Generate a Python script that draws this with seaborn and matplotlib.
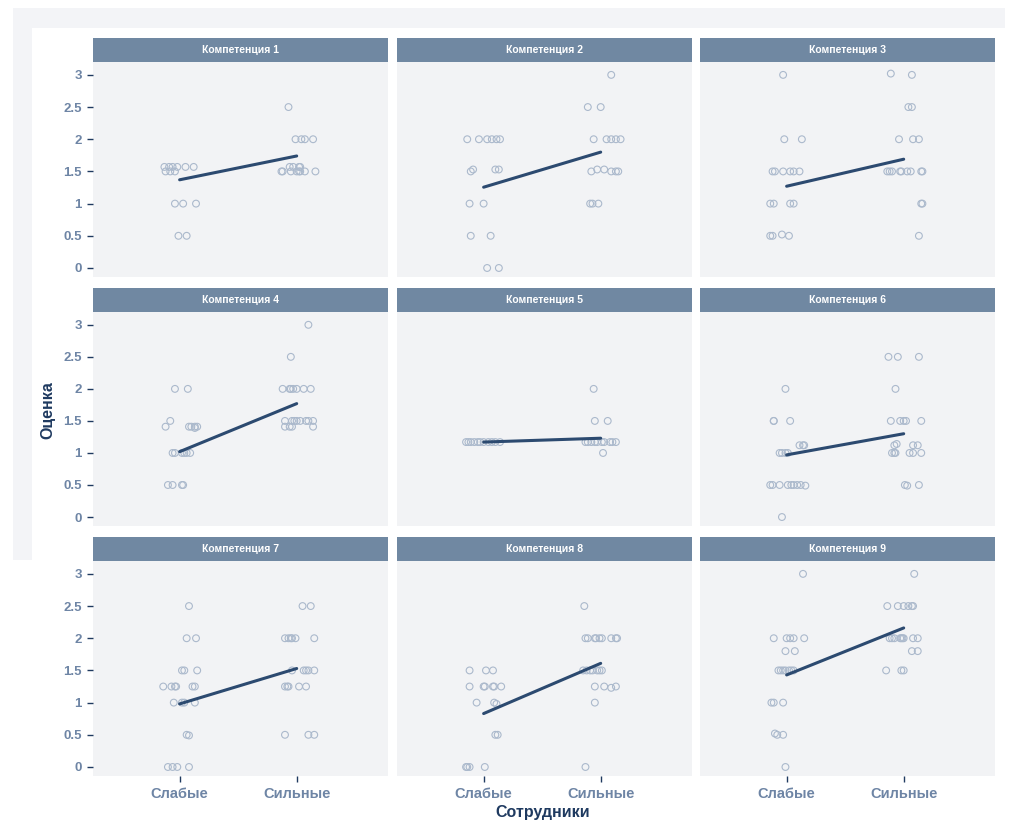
import matplotlib
matplotlib.use("Agg")
import matplotlib.pyplot as plt
import numpy as np
import pandas as pd
import seaborn as sns
from matplotlib.patches import Rectangle

# ---------------- data ----------------
categories = ["Слабые", "Сильные"]
titles = [f"Компетенция {i}" for i in range(1, 10)]
y_ticks = [0, 0.5, 1, 1.5, 2, 2.5, 3]
y_tick_labels = ["0", "0.5", "1", "1.5", "2", "2.5", "3"]

# jittered positions (1 = Слабые, 2 = Сильные) and scores
c1_x = [0.87, 0.91, 0.94, 0.98, 1.05, 1.12, 0.88, 0.92, 0.96, 0.96, 1.03, 1.14, 0.99, 1.06,
        1.93, 1.99, 2.04, 2.07, 2.14, 1.94, 1.97, 2.02, 2.03, 1.87, 1.88, 1.95, 2.00, 2.02, 2.03, 2.07, 2.16]
c1_y = [1.57, 1.57, 1.57, 1.57, 1.57, 1.57, 1.5, 1.5, 1.5, 1.0, 1.0, 1.0, 0.5, 0.5,
        2.5, 2.0, 2.0, 2.0, 2.0, 1.57, 1.57, 1.57, 1.57, 1.5, 1.5, 1.5, 1.5, 1.5, 1.5, 1.5, 1.5]

c2_x = [0.86, 0.96, 1.03, 1.07, 1.11, 1.14, 0.89, 0.91, 1.10, 1.13, 0.88, 1.00, 0.89, 1.06, 1.03, 1.13,
        2.09, 1.89, 2.00, 1.94, 2.05, 2.09, 2.13, 2.17, 1.92, 2.09, 2.13, 2.15, 1.97, 2.03, 1.91, 1.93, 1.98]
c2_y = [2.0, 2.0, 2.0, 2.0, 2.0, 2.0, 1.5, 1.53, 1.53, 1.53, 1.0, 1.0, 0.5, 0.5, 0.0, 0.0,
        3.0, 2.5, 2.5, 2.0, 2.0, 2.0, 2.0, 2.0, 1.5, 1.5, 1.5, 1.5, 1.53, 1.53, 1.0, 1.0, 1.0]

c3_x = [0.97, 0.98, 1.13, 0.88, 0.90, 0.97, 1.03, 1.06, 1.11, 0.86, 0.89, 1.03, 1.06, 0.86, 0.88, 1.02, 0.96,
        2.07, 1.89, 2.04, 2.07, 1.96, 2.08, 2.13, 1.86, 1.88, 1.90, 1.97, 1.98, 2.03, 2.06, 2.15, 2.16,
        2.15, 2.16, 2.13]
c3_y = [3.0, 2.0, 2.0, 1.5, 1.5, 1.5, 1.5, 1.5, 1.5, 1.0, 1.0, 1.0, 1.0, 0.5, 0.5, 0.5, 0.52,
        3.0, 3.02, 2.5, 2.5, 2.0, 2.0, 2.0, 1.5, 1.5, 1.5, 1.5, 1.5, 1.5, 1.5, 1.5, 1.5,
        1.0, 1.0, 0.5]

c4_x = [0.96, 1.07, 0.92, 0.88, 1.08, 1.10, 1.13, 1.15, 1.13, 0.94, 0.96, 1.02, 1.04, 1.06, 1.09,
        0.90, 0.94, 1.02, 1.03,
        2.10, 1.95, 1.88, 1.94, 1.95, 1.97, 2.00, 2.06, 2.12, 1.90, 1.96, 1.98, 2.00, 2.03, 2.08, 2.10, 2.14,
        1.90, 1.94, 1.96, 2.14]
c4_y = [2.0, 2.0, 1.5, 1.41, 1.41, 1.41, 1.41, 1.41, 1.39, 1.0, 1.0, 1.0, 1.0, 1.0, 1.0,
        0.5, 0.5, 0.5, 0.5,
        3.0, 2.5, 2.0, 2.0, 2.0, 2.0, 2.0, 2.0, 2.0, 1.5, 1.5, 1.5, 1.5, 1.5, 1.5, 1.5, 1.5,
        1.41, 1.41, 1.41, 1.41]

c5_x = [0.85, 0.87, 0.89, 0.92, 0.95, 0.97, 1.00, 1.04, 1.07, 1.10, 1.14,
        1.94, 1.95, 2.06, 1.87, 1.89, 1.92, 1.95, 1.97, 2.01, 2.03, 2.08, 2.10, 2.13, 2.02]
c5_y = [1.17, 1.17, 1.17, 1.17, 1.17, 1.17, 1.17, 1.17, 1.17, 1.17, 1.17,
        2.0, 1.5, 1.5, 1.17, 1.17, 1.17, 1.17, 1.17, 1.17, 1.17, 1.17, 1.17, 1.17, 1.0]

c6_x = [0.99, 0.89, 0.89, 1.03, 1.11, 1.14, 1.15, 0.94, 0.96, 0.99, 1.01,
        0.86, 0.88, 0.94, 1.01, 1.04, 1.06, 1.09, 1.12, 1.16, 0.96,
        1.87, 1.95, 2.13, 1.93, 1.89, 1.97, 2.00, 2.02, 2.15, 2.08, 2.12, 1.92, 1.94,
        1.90, 1.92, 1.93, 2.05, 2.08, 2.15, 2.01, 2.13, 2.03]
c6_y = [2.0, 1.5, 1.5, 1.5, 1.12, 1.12, 1.12, 1.0, 1.0, 1.0, 1.0,
        0.5, 0.5, 0.5, 0.5, 0.5, 0.5, 0.5, 0.5, 0.49, 0.0,
        2.5, 2.5, 2.5, 2.0, 1.5, 1.5, 1.5, 1.5, 1.5, 1.12, 1.12, 1.12, 1.14,
        1.0, 1.0, 1.0, 1.0, 1.0, 1.0, 0.5, 0.5, 0.49]

c7_x = [1.08, 1.06, 1.14, 1.02, 1.04, 1.15, 0.86, 0.93, 0.96, 0.97, 1.11, 1.13,
        0.95, 1.02, 1.04, 1.13, 1.06, 1.08, 0.90, 0.94, 0.98, 1.08,
        2.05, 2.12, 1.90, 1.93, 1.95, 1.96, 1.99, 2.15, 1.96, 2.06, 2.08, 2.10, 2.15,
        1.90, 1.92, 1.93, 2.02, 2.08, 1.90, 2.10, 2.15]
c7_y = [2.5, 2.0, 2.0, 1.5, 1.5, 1.5, 1.25, 1.25, 1.25, 1.25, 1.25, 1.25,
        1.0, 1.0, 1.0, 1.0, 0.5, 0.49, 0.0, 0.0, 0.0, 0.0,
        2.5, 2.5, 2.0, 2.0, 2.0, 2.0, 2.0, 2.0, 1.5, 1.5, 1.5, 1.5, 1.5,
        1.25, 1.25, 1.25, 1.25, 1.25, 0.5, 0.5, 0.5]

c8_x = [0.88, 1.02, 1.08, 0.88, 1.00, 1.01, 1.08, 1.09, 1.15, 0.94, 1.09, 1.11, 1.10, 1.12,
        0.85, 0.86, 0.88, 1.01,
        1.86, 1.87, 1.89, 1.95, 1.96, 1.99, 2.01, 2.09, 2.13, 2.14,
        1.85, 1.88, 1.91, 1.93, 1.97, 1.99, 2.01, 1.95, 2.03, 2.13, 2.09, 1.95, 1.87]
c8_y = [1.5, 1.5, 1.5, 1.25, 1.25, 1.25, 1.25, 1.25, 1.25, 1.0, 1.0, 0.98, 0.5, 0.5,
        0.0, 0.0, 0.0, 0.0,
        2.5, 2.0, 2.0, 2.0, 2.0, 2.0, 2.0, 2.0, 2.0, 2.0,
        1.5, 1.5, 1.5, 1.5, 1.5, 1.5, 1.5, 1.25, 1.25, 1.25, 1.23, 1.0, 0.0]

c9_x = [1.14, 0.89, 1.00, 1.03, 1.06, 1.15, 0.99, 1.07, 0.93, 0.95, 0.97, 0.99, 1.02, 1.04, 1.06,
        0.87, 0.89, 0.97, 0.97, 0.92, 0.90, 0.99,
        2.09, 1.86, 1.95, 2.00, 2.04, 2.07, 2.08, 1.88, 1.90, 1.92, 1.97, 1.98, 1.99, 2.00, 2.08, 2.12,
        2.07, 2.12, 1.85, 1.98, 2.00]
c9_y = [3.0, 2.0, 2.0, 2.0, 2.0, 2.0, 1.8, 1.8, 1.5, 1.5, 1.5, 1.5, 1.5, 1.5, 1.5,
        1.0, 1.0, 1.0, 0.5, 0.5, 0.52, 0.0,
        3.0, 2.5, 2.5, 2.5, 2.5, 2.5, 2.5, 2.0, 2.0, 2.0, 2.0, 2.0, 2.0, 2.0, 2.0, 2.0,
        1.8, 1.8, 1.5, 1.5, 1.5]

# fitted line ends (mean scores for Слабые / Сильные)
line_weak = [1.37, 1.255, 1.27, 1.02, 1.17, 0.97, 0.98, 0.83, 1.43]
line_strong = [1.74, 1.80, 1.69, 1.77, 1.23, 1.30, 1.53, 1.61, 2.16]

xs = [c1_x, c2_x, c3_x, c4_x, c5_x, c6_x, c7_x, c8_x, c9_x]
ys = [c1_y, c2_y, c3_y, c4_y, c5_y, c6_y, c7_y, c8_y, c9_y]

points = pd.concat(
    [pd.DataFrame({"comp": t, "x": x, "y": y}) for t, x, y in zip(titles, xs, ys)],
    ignore_index=True)
lines = pd.concat(
    [pd.DataFrame({"comp": t, "x": [1, 2], "y": [w, s]})
     for t, w, s in zip(titles, line_weak, line_strong)],
    ignore_index=True)

# ---------------- style ----------------
sns.set_theme(style="white")
plt.rcParams["font.family"] = ["Liberation Sans", "DejaVu Sans"]

PANEL_BG = "#f2f3f5"
STRIP_BG = "#7088a2"
POINT_EC = "#abb9cc"
LINE_C = "#2c4a70"
TICK_C = "#6e85a5"
LABEL_C = "#1f3a60"

W, H = 1010, 821
g = sns.FacetGrid(points, col="comp", col_wrap=3, col_order=titles,
                  sharex=True, sharey=True, height=2.6, aspect=1.2)
g.map_dataframe(sns.scatterplot, x="x", y="y", marker="o", s=24,
                facecolor="none", edgecolor=POINT_EC, linewidth=0.8)

fig = g.figure
fig.set_size_inches(W / 100, H / 100)
fig.set_dpi(100)
fig.patch.set_facecolor("white")

# outer light frame
fig.patches.append(Rectangle((13 / W, 1 - 28 / H), (1005 - 13) / W, 20 / H, transform=fig.transFigure,
                             facecolor="#f3f4f7", edgecolor="none", zorder=-10))
fig.patches.append(Rectangle((13 / W, 1 - 560 / H), 19 / W, 532 / H, transform=fig.transFigure,
                             facecolor="#f3f4f7", edgecolor="none", zorder=-10))

col_px = [(93, 388), (397, 692), (700, 995)]
row_px = [(62, 277), (312, 526), (561, 776)]

for i, ax in enumerate(g.axes.flat):
    r, c = divmod(i, 3)
    x0, x1 = col_px[c]
    y0, y1 = row_px[r]
    ax.set_position([x0 / W, 1 - y1 / H, (x1 - x0) / W, (y1 - y0) / H])
    ax.set_facecolor(PANEL_BG)
    for sp in ax.spines.values():
        sp.set_visible(False)

    sns.lineplot(data=lines[lines["comp"] == titles[i]], x="x", y="y", ax=ax,
                 color=LINE_C, linewidth=2.2, zorder=5)

    ax.set_xlim(0.26, 2.78)
    ax.set_ylim(-0.14, 3.2)
    ax.set_xticks([1, 2])
    ax.set_yticks(y_ticks)
    ax.set_title("")
    ax.set_xlabel("")
    ax.set_ylabel("")

    if c == 0:
        ax.set_yticklabels(y_tick_labels)
        ax.tick_params(axis="y", which="both", left=True, length=4, width=1,
                       color=LABEL_C, labelsize=9.5, labelcolor=TICK_C, pad=4)
        for lab in ax.get_yticklabels():
            lab.set_fontweight("bold")
    else:
        ax.tick_params(axis="y", left=False, labelleft=False)

    if r == 2:
        ax.set_xticklabels(categories)
        ax.tick_params(axis="x", which="both", bottom=True, length=4, width=1,
                       color=LABEL_C, labelsize=10.5, labelcolor=TICK_C, pad=4)
        for lab in ax.get_xticklabels():
            lab.set_fontweight("bold")
    else:
        ax.tick_params(axis="x", bottom=False, labelbottom=False)

    strip_h = 24 / (y1 - y0)
    ax.add_patch(Rectangle((0, 1), 1, strip_h, transform=ax.transAxes,
                           facecolor=STRIP_BG, edgecolor="none", clip_on=False, zorder=3))
    ax.text(0.5, 1 + strip_h / 2, titles[i], transform=ax.transAxes,
            ha="center", va="center", color="white", fontsize=7.5, fontweight="bold")

fig.text(48 / W, 1 - 410 / H, "Оценка", rotation=90, ha="center", va="center",
         fontsize=11.5, fontweight="bold", color=LABEL_C)
fig.text(543 / W, 1 - 812 / H, "Сотрудники", ha="center", va="center",
         fontsize=11.5, fontweight="bold", color=LABEL_C)

fig.savefig("out.png", dpi=100, facecolor="white")
